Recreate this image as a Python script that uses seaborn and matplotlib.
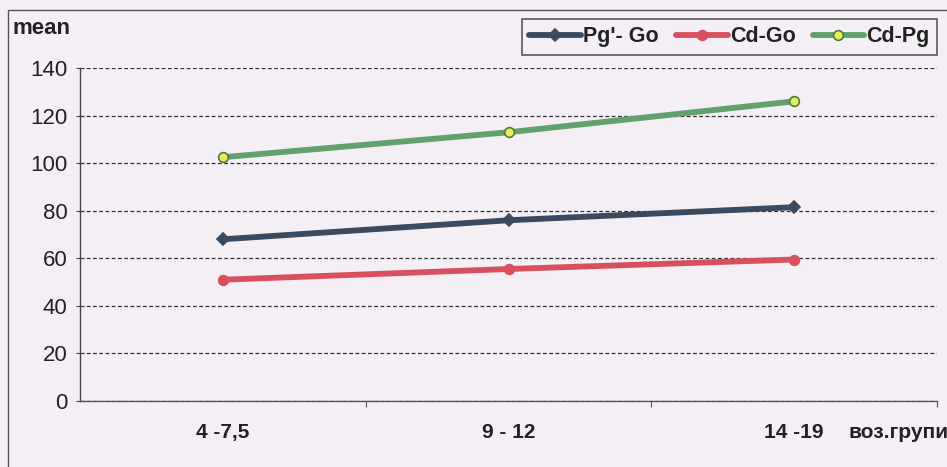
import matplotlib
matplotlib.use('Agg')
import matplotlib.pyplot as plt
import seaborn as sns
import pandas as pd
from matplotlib.patches import Rectangle

# Age groups and mean measurements per series
groups = ['4 -7,5', '9 - 12', '14 -19']
pg_go = [68.0, 76.0, 81.5]
cd_go = [51.0, 55.5, 59.5]
cd_pg = [102.5, 113.0, 126.0]
series_names = ["Pg'- Go", 'Cd-Go', 'Cd-Pg']

BG = '#f3eff5'
palette = {"Pg'- Go": '#3b4a5e', 'Cd-Go': '#d8505f', 'Cd-Pg': '#62a06e'}

rows = []
for name, vals in zip(series_names, [pg_go, cd_go, cd_pg]):
    for g, v in zip(groups, vals):
        rows.append({'group': g, 'mean': v, 'series': name})
df = pd.DataFrame(rows)

sns.set_theme(style='white')
plt.rcParams['font.family'] = ['Liberation Sans', 'DejaVu Sans']

fig = plt.figure(figsize=(9.47, 4.67), dpi=100, facecolor=BG)
ax = fig.add_axes([0.0845, 0.1413, 0.905, 0.7130])
ax.set_facecolor(BG)

# outer frame of the chart area
fig.patches.append(Rectangle((8 / 947, -0.05), 1.0, 1.05 - 10 / 467,
                             transform=fig.transFigure, fill=False,
                             edgecolor='#555555', lw=1.0))

marker_map = {"Pg'- Go": 'D', 'Cd-Go': 'o', 'Cd-Pg': 'o'}
face_map = {"Pg'- Go": '#3b4a5e', 'Cd-Go': '#d8505f', 'Cd-Pg': '#e6ee55'}
edge_map = {"Pg'- Go": '#3b4a5e', 'Cd-Go': '#d8505f', 'Cd-Pg': '#4d7a45'}
size_map = {"Pg'- Go": 6, 'Cd-Go': 7, 'Cd-Pg': 7}

for name in series_names:
    sub = df[df['series'] == name]
    sns.lineplot(data=sub, x='group', y='mean', ax=ax, color=palette[name],
                 lw=4.2, marker=marker_map[name], markersize=size_map[name],
                 markerfacecolor=face_map[name], markeredgecolor=edge_map[name],
                 markeredgewidth=1.2, label=name, zorder=3)

ax.set_xlim(-0.5, 2.5)
ax.set_ylim(0, 140)
ax.set_yticks(range(0, 141, 20))
ax.yaxis.grid(True, linestyle=(0, (3, 2)), color='#333333', lw=0.9)
ax.set_axisbelow(True)
ax.set_xlabel('')
ax.set_ylabel('')

for s in ['top', 'right']:
    ax.spines[s].set_visible(False)
ax.spines['left'].set_color('#444444')
ax.spines['bottom'].set_color('#555555')
ax.spines['left'].set_linewidth(1.0)
ax.spines['bottom'].set_linewidth(1.0)

ax.tick_params(axis='y', which='both', direction='inout', length=6, width=0.8,
               color='#444444', labelsize=16, labelcolor='#222222', pad=6, left=True)
ax.set_xticks([0, 1, 2])
ax.set_xticklabels(groups, fontsize=15, fontweight='bold', color='#222222')
ax.tick_params(axis='x', length=0, pad=16)
ax.set_xticks([0.5, 1.5, 2.5], minor=True)
ax.tick_params(axis='x', which='minor', direction='out', length=4, width=0.8,
               color='#555555', bottom=True)

fig.text(12 / 947, 1 - 29 / 467, 'mean', fontsize=16, fontweight='bold',
         color='#222222', va='center', ha='left')
fig.text(848 / 947, 1 - 433 / 467, 'воз.групи', fontsize=15, fontweight='bold',
         color='#222222', va='center', ha='left')

leg = ax.legend(loc='upper right', bbox_to_anchor=(948 / 947, 1 - 8 / 467),
                bbox_transform=fig.transFigure, ncol=3, frameon=True,
                fontsize=15.5, handlelength=2.4, handletextpad=0.1,
                columnspacing=0.8, borderpad=0.35, fancybox=False)
leg.get_frame().set_facecolor(BG)
leg.get_frame().set_edgecolor('#333333')
leg.get_frame().set_linewidth(1.2)
for t in leg.get_texts():
    t.set_fontweight('bold')
    t.set_color('#222222')

fig.savefig('out.png', dpi=100, facecolor=BG)
